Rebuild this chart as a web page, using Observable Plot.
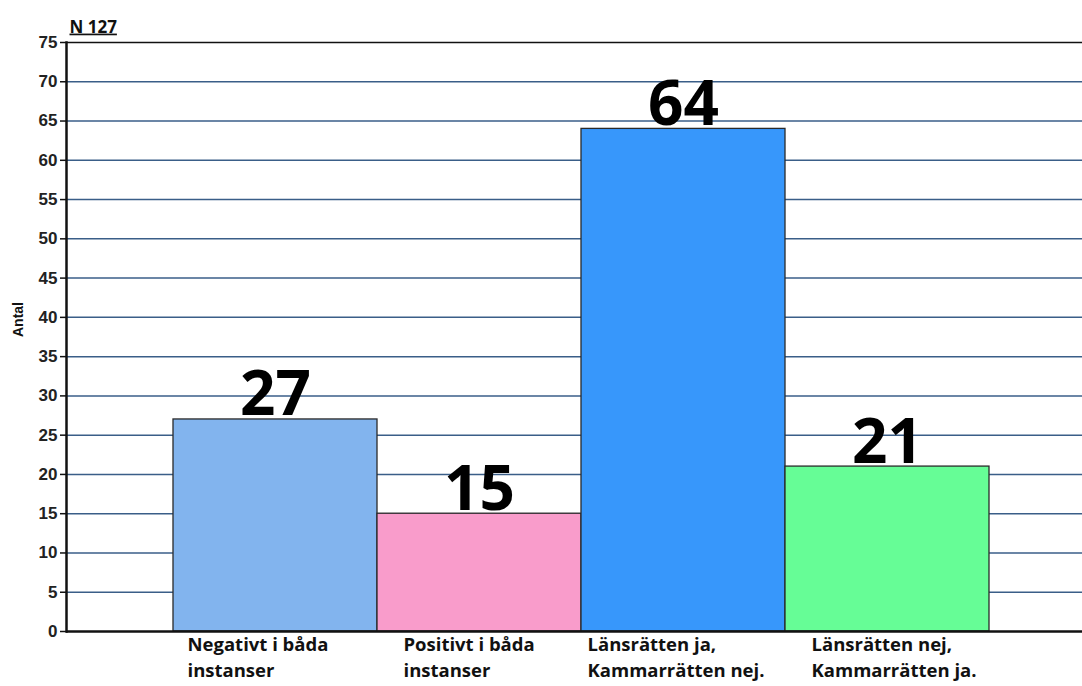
<!DOCTYPE html>
<html>
<head>
<meta charset="utf-8">
<script src="https://cdn.jsdelivr.net/npm/d3@7"></script>
<script src="https://cdn.jsdelivr.net/npm/@observablehq/plot@0.6"></script>
<style>
  html, body { margin: 0; padding: 0; background: #fff; }
  #chart svg { display: block; }
</style>
</head>
<body>
<div id="chart"></div>
<script>
const categories = [
  "Negativt i båda\ninstanser",
  "Positivt i båda\ninstanser",
  "Länsrätten ja,\nKammarrätten nej.",
  "Länsrätten nej,\nKammarrätten ja."
];
const values = [27, 15, 64, 21];
const colors = ["#82b4ee", "#f99ccb", "#3797fb", "#66fd96"];
const yTicks = [0, 5, 10, 15, 20, 25, 30, 35, 40, 45, 50, 55, 60, 65, 70, 75];
const nLabel = "N 127";
const yLabel = "Antal";

const data = categories.map((c, i) => ({cat: c, value: values[i]}));
const labelDx = [-88, -76, -96, -76];

const labelMarks = categories.map((c, i) =>
  Plot.text([data[i]], {
    x: "cat", text: "cat", frameAnchor: "bottom", textAnchor: "start",
    lineAnchor: "top", dx: labelDx[i], dy: 2, fontSize: 18.5, lineHeight: 1.36,
    fontWeight: "bold", fill: "#111", fontFamily: "Open Sans"
  })
);

const chart = Plot.plot({
  width: 1082,
  height: 686,
  marginTop: 42,
  marginBottom: 55,
  marginLeft: 66,
  marginRight: 0,
  style: {fontFamily: "Liberation Sans, Arial, sans-serif", background: "#fff"},
  x: {domain: categories, range: [172, 990], padding: 0, axis: null},
  y: {domain: [0, 75], ticks: yTicks, label: null},
  color: {domain: categories, range: colors},
  marks: [
    Plot.ruleY(yTicks.filter(t => t > 0 && t < 75), {stroke: "#3a5e88", strokeWidth: 1.5}),
    Plot.barY(data, {x: "cat", y: "value", fill: "cat", stroke: "#2a2a2a", strokeWidth: 1.3}),
    Plot.ruleY([75], {stroke: "#111", strokeWidth: 1.6}),
    Plot.ruleY([0], {stroke: "#111", strokeWidth: 2.5}),
    Plot.frame({anchor: "left", stroke: "#111", strokeWidth: 2.5}),
    Plot.axisY({ticks: yTicks, tickSize: 6, tickPadding: 3, fontSize: 17, fontWeight: "bold", label: null, stroke: "#111", strokeWidth: 1.5, fill: "#222"}),
    Plot.text(data, {x: "cat", y: "value", text: d => String(d.value), lineAnchor: "bottom", dy: -4, fontSize: 62, fontWeight: "bold", fill: "#000", fontFamily: "Open Sans"}),
    ...labelMarks,
    Plot.text([yLabel], {frameAnchor: "left", dx: -48, rotate: -90, fontSize: 14, fontWeight: "bold", fill: "#111"}),
    Plot.text([nLabel], {frameAnchor: "top-left", textAnchor: "start", dx: 3, dy: -22, fontSize: 17, fontWeight: "bold", fill: "#111", fontFamily: "Open Sans", className: "nlabel"})
  ]
});
chart.querySelectorAll(".nlabel text").forEach(t => t.setAttribute("text-decoration", "underline"));
document.getElementById("chart").appendChild(chart);
</script>
</body>
</html>
